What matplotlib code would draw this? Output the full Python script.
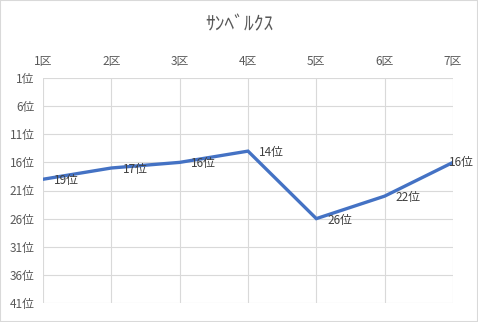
import matplotlib
matplotlib.use("Agg")
import matplotlib.pyplot as plt
from matplotlib.patches import Rectangle

plt.rcParams['font.family'] = ['Noto Sans CJK JP', 'DejaVu Sans']

title = "ｻﾝﾍﾞﾙｸｽ"
categories = ["1区", "2区", "3区", "4区", "5区", "6区", "7区"]
ranks = [19, 17, 16, 14, 26, 22, 16]
yticks = [1, 6, 11, 16, 21, 26, 31, 36, 41]
ytick_labels = [f"{v}位" for v in yticks]

fig = plt.figure(figsize=(4.78, 3.22), dpi=100)
fig.patch.set_facecolor("white")
fig.add_artist(Rectangle((0, 0), 1, 1, transform=fig.transFigure, fill=False,
                         edgecolor="#D9D9D9", linewidth=1.5))
ax = fig.add_axes([43/478, 1 - 303/322, (453 - 43)/478, (303 - 78)/322])

x = list(range(len(categories)))
ax.plot(x, ranks, color="#4472C4", linewidth=2.4, solid_joinstyle="miter", zorder=3)

ax.set_xlim(0, len(categories) - 1)
ax.set_ylim(41, 1)
ax.set_xticks(x)
ax.set_xticklabels(categories)
ax.set_yticks(yticks)
ax.set_yticklabels(ytick_labels)
ax.xaxis.tick_top()
ax.tick_params(axis='both', length=0, labelsize=8.5, colors="#595959")
ax.tick_params(axis='x', pad=7)
ax.tick_params(axis='y', pad=6)
ax.grid(True, color="#D9D9D9", linewidth=0.8)
for s in ax.spines.values():
    s.set_visible(False)

for i, r in enumerate(ranks):
    if i == len(ranks) - 1:
        off = (-3, 0)
    else:
        off = (8, -1)
    ax.annotate(f"{r}位", (i, r), xytext=off, textcoords="offset points",
                ha="left", va="center", fontsize=8.5, color="#404040",
                annotation_clip=False, zorder=4)

fig.text(0.5, 1 - 25/322, title, ha="center", va="center", fontsize=14, color="#595959")

fig.savefig("out.png", dpi=100)
